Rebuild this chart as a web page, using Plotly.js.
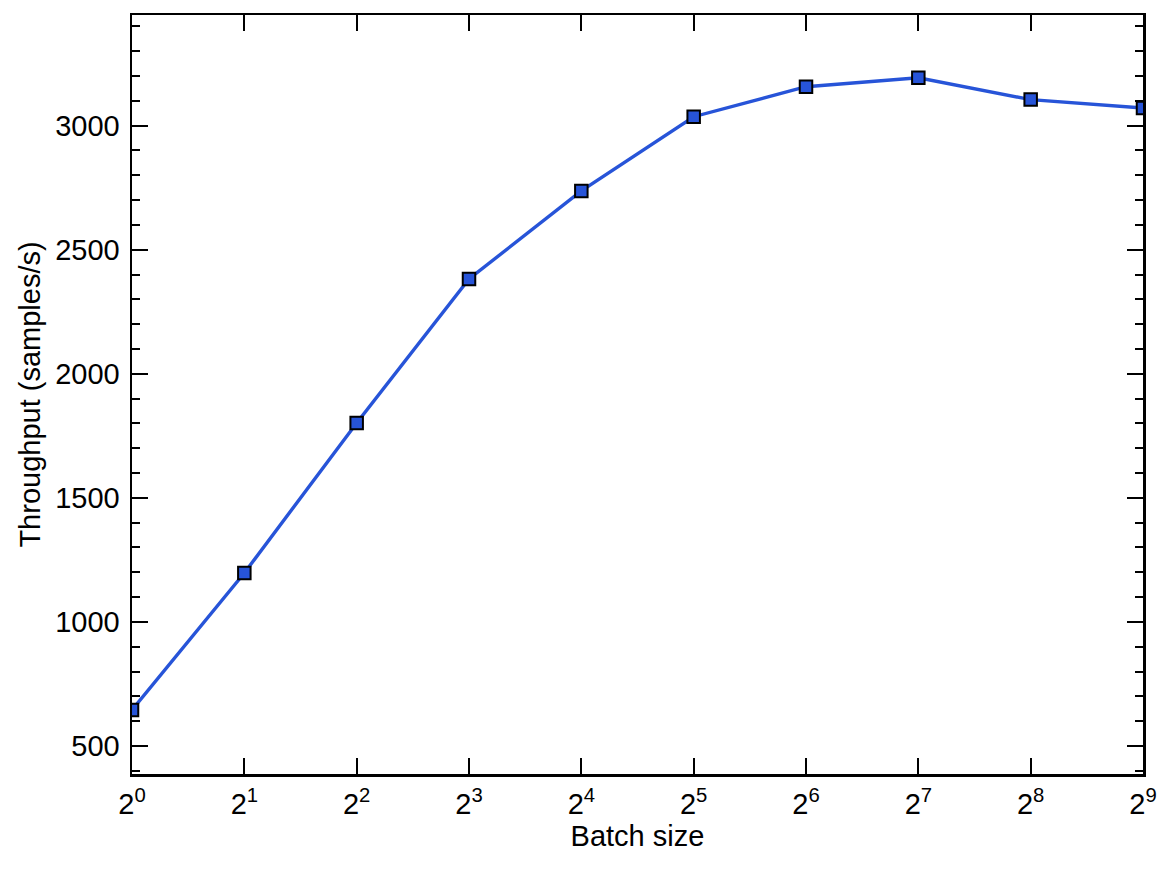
<!DOCTYPE html>
<html>
<head>
<meta charset="utf-8">
<script src="https://cdn.plot.ly/plotly-3.0.1.min.js"></script>
<style>html,body{margin:0;padding:0;background:#fff;}#chart{width:1172px;height:870px;}</style>
</head>
<body>
<div id="chart"></div>
<script>
const batchSizes = [1, 2, 4, 8, 16, 32, 64, 128, 256, 512];
const throughput = [645, 1197, 1802, 2382, 2737, 3036, 3157, 3193, 3105, 3071];
const xTickLabels = ['2<sup>0</sup>','2<sup>1</sup>','2<sup>2</sup>','2<sup>3</sup>','2<sup>4</sup>','2<sup>5</sup>','2<sup>6</sup>','2<sup>7</sup>','2<sup>8</sup>','2<sup>9</sup>'];
const yTickVals = [500, 1000, 1500, 2000, 2500, 3000];

const font = 'Liberation Sans, Arial, Helvetica, sans-serif';
const trace = {
  x: batchSizes, y: throughput, type: 'scatter', mode: 'lines+markers',
  line: {color: '#2754d8', width: 3.4},
  marker: {symbol: 'square', size: 12.5, color: '#2754d8', line: {color: '#000', width: 2}},
  cliponaxis: true
};
const layout = {
  width: 1172, height: 870,
  margin: {l: 132, r: 29, t: 15, b: 96},
  paper_bgcolor: '#fff', plot_bgcolor: '#fff',
  showlegend: false,
  font: {family: font, color: '#000', size: 29},
  xaxis: {
    type: 'log', range: [0, 9*Math.log10(2)],
    tickvals: batchSizes, ticktext: xTickLabels,
    ticks: 'inside', ticklen: 16, tickwidth: 2, tickcolor: '#000',
    showline: true, linewidth: 2.5, linecolor: '#000', mirror: 'ticks',
    showgrid: false, zeroline: false,
    ticklabelstandoff: 3,
    tickfont: {size: 29, family: font},
    title: {text: 'Batch size', font: {size: 29, family: font}, standoff: 6}
  },
  yaxis: {
    range: [387, 3446],
    tickvals: yTickVals,
    ticks: 'inside', ticklen: 16, tickwidth: 2, tickcolor: '#000',
    minor: {dtick: 100, ticks: 'inside', ticklen: 8, tickwidth: 2, tickcolor: '#000', showgrid: false},
    showline: true, linewidth: 2.5, linecolor: '#000', mirror: 'ticks',
    showgrid: false, zeroline: false,
    ticklabelstandoff: 4,
    tickfont: {size: 29, family: font},
    title: {text: 'Throughput (samples/s)', font: {size: 29, family: font}, standoff: 6}
  }
};
Plotly.newPlot('chart', [trace], layout, {displayModeBar: false, staticPlot: true});
</script>
</body>
</html>
